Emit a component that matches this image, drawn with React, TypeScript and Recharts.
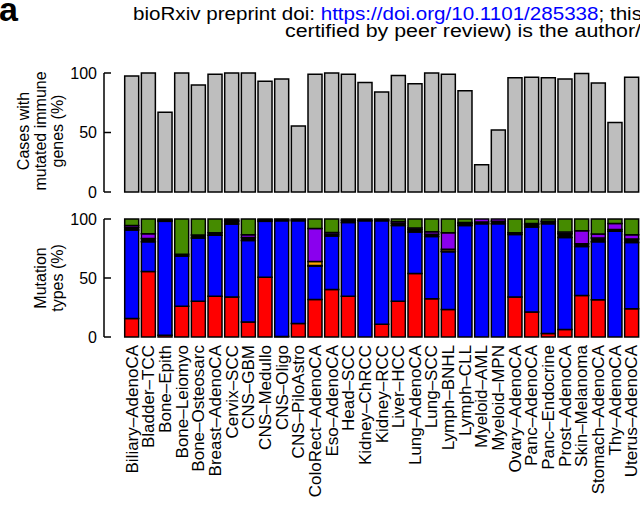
import React from 'react';
import { BarChart, Bar, XAxis, YAxis } from 'recharts';

const categories = [
  'Biliary–AdenoCA', 'Bladder–TCC', 'Bone–Epith', 'Bone–Leiomyo', 'Bone–Osteosarc',
  'Breast–AdenoCA', 'Cervix–SCC', 'CNS–GBM', 'CNS–Medullo', 'CNS–Oligo',
  'CNS–PiloAstro', 'ColoRect–AdenoCA', 'Eso–AdenoCA', 'Head–SCC', 'Kidney–ChRCC',
  'Kidney–RCC', 'Liver–HCC', 'Lung–AdenoCA', 'Lung–SCC', 'Lymph–BNHL',
  'Lymph–CLL', 'Myeloid–AML', 'Myeloid–MPN', 'Ovary–AdenoCA', 'Panc–AdenoCA',
  'Panc–Endocrine', 'Prost–AdenoCA', 'Skin–Melanoma', 'Stomach–AdenoCA', 'Thy–AdenoCA',
  'Uterus–AdenoCA',
];

const casesPct = [
  97.5, 100, 67, 100, 90, 99, 100, 100, 93, 95,
  55.5, 99, 100, 99, 92, 84, 98, 91, 100, 99,
  85, 23, 52, 96, 96.5, 96, 95, 99.5, 91.5, 58.5,
  96.5,
];

const redPct = [
  15.6, 55.6, 1.5, 26, 30.4, 34.6, 33.8, 12.8, 50.6, 0.5,
  11.5, 31.8, 40.2, 34.6, 0, 10.7, 30.4, 53.9, 32.4, 23.2,
  0, 0, 0, 33.8, 21.2, 3, 6.4, 35.2, 31.5, 0,
  23.9,
];
const bluePct = [
  75.1, 25.1, 96.5, 42.7, 53.6, 51.7, 62, 69, 47.4, 98,
  87, 28.3, 45.3, 62.4, 98.5, 87.8, 64, 35, 52.8, 49.1,
  94.5, 96, 96, 53, 72, 93, 78, 41.4, 49.3, 89.7,
  56.2,
];
const blackPct = [
  2.2, 2.8, 1, 1.5, 2.5, 2, 2, 2.5, 1.2, 1,
  1, 0.5, 1.5, 2, 1.5, 1, 2, 2, 1.8, 0.5,
  1.5, 1.5, 2, 1.5, 2, 1.5, 3, 2.5, 3, 1.5,
  3,
];
const orangePct = [
  0, 0, 0, 0, 0, 0, 0, 0, 0, 0,
  0, 3.4, 0, 0, 0, 0, 0, 0, 0, 1.6,
  0, 0, 0, 0, 0, 0, 0, 0, 0, 0,
  0,
];
const purplePct = [
  1.6, 4, 0, 0, 0, 0, 1, 2.3, 0, 0,
  0, 28, 1.5, 0, 0, 0.5, 1.5, 1.5, 2.3, 14,
  1, 2.5, 2, 0, 1, 0.5, 1.5, 10.9, 3.5, 5,
  3.5,
];
const greenPct = [
  5.5, 12.5, 1, 29.8, 13.5, 11.7, 1.2, 13.4, 0.8, 0.5,
  0.5, 8, 11.5, 1, 0, 0, 2.1, 7.6, 10.7, 11.6,
  3, 0, 0, 11.7, 3.8, 2, 11.1, 10, 12.7, 3.8,
  13.4,
];

const yTicks = [0, 50, 100];

const FONT = '"Liberation Sans", Arial, Helvetica, sans-serif';

const topData = categories.map((name, i) => ({ name, cases: casesPct[i] }));
const bottomData = categories.map((name, i) => ({
  name,
  red: redPct[i],
  blue: bluePct[i],
  black: blackPct[i],
  orange: orangePct[i],
  purple: purplePct[i],
  green: greenPct[i],
}));

const series = [
  { key: 'red', color: '#ff0000' },
  { key: 'blue', color: '#0000ff' },
  { key: 'black', color: '#000000' },
  { key: 'orange', color: '#ffa500' },
  { key: 'purple', color: '#8a00ee' },
  { key: 'green', color: '#458b00' },
];

const YTick = (props: any) => {
  const { x, y, payload } = props;
  return (
    <g>
      <line x1={x} x2={x + 7} y1={y} y2={y} stroke="#000" strokeWidth={1.5} />
      <text
        x={x - 7}
        y={y}
        textAnchor="end"
        dominantBaseline="central"
        fontSize={16}
        fontFamily={FONT}
        fill="#000"
      >
        {payload.value}
      </text>
    </g>
  );
};

const XTick = (props: any) => {
  const { x, y, payload } = props;
  return (
    <text
      x={x}
      y={y + 8}
      transform={`rotate(-90, ${x}, ${y + 8})`}
      textAnchor="end"
      dominantBaseline="central"
      fontSize={17}
      fontFamily={FONT}
      fill="#000"
    >
      {payload.value}
    </text>
  );
};

const CHART_W = 660;
const MARGIN_LEFT = 44;
const YAXIS_W = 60;
const PAD = { left: 19.7, right: 9.7 };

export default function App() {
  return (
    <div
      style={{
        position: 'absolute',
        left: 0,
        top: 0,
        width: 640,
        height: 511,
        overflow: 'hidden',
        background: '#fff',
      }}
    >
      <div style={{ position: 'absolute', left: 0, top: 0 }}>
        <BarChart
          width={CHART_W}
          height={212}
          data={topData}
          margin={{ top: 73, right: 10, bottom: 20, left: MARGIN_LEFT }}
        >
          <XAxis dataKey="name" hide padding={PAD} />
          <YAxis
            domain={[0, 100]}
            ticks={yTicks}
            width={YAXIS_W}
            tickSize={0}
            tickMargin={0}
            tickLine={false}
            axisLine={{ stroke: '#000', strokeWidth: 1.5 }}
            tick={<YTick />}
            interval={0}
          />
          <Bar
            dataKey="cases"
            fill="#bebebe"
            stroke="#000"
            strokeWidth={1.5}
            barSize={14}
            isAnimationActive={false}
          />
        </BarChart>
      </div>
      <div style={{ position: 'absolute', left: 0, top: 0 }}>
        <BarChart
          width={CHART_W}
          height={511}
          data={bottomData}
          margin={{ top: 219, right: 10, bottom: 0, left: MARGIN_LEFT }}
        >
          <XAxis
            dataKey="name"
            height={174}
            padding={PAD}
            interval={0}
            tickSize={0}
            tickMargin={0}
            tickLine={false}
            axisLine={false}
            tick={<XTick />}
          />
          <YAxis
            domain={[0, 100]}
            ticks={yTicks}
            width={YAXIS_W}
            tickSize={0}
            tickMargin={0}
            tickLine={false}
            axisLine={{ stroke: '#000', strokeWidth: 1.5 }}
            tick={<YTick />}
            interval={0}
          />
          {series.map((s) => (
            <Bar
              key={s.key}
              dataKey={s.key}
              stackId="m"
              fill={s.color}
              stroke="#000"
              strokeWidth={1.5}
              barSize={14}
              isAnimationActive={false}
            />
          ))}
        </BarChart>
      </div>
      <svg
        width={640}
        height={511}
        style={{ position: 'absolute', left: 0, top: 0, pointerEvents: 'none' }}
        fontFamily={FONT}
      >
        <text x={-1} y={21} fontSize={34} fontWeight="bold" fill="#000">
          a
        </text>
        <text
          x={133}
          y={20}
          fontSize={18}
          fill="#000"
          textLength={509}
          lengthAdjust="spacingAndGlyphs"
        >
          bioRxiv preprint doi:{' '}
          <tspan fill="#0000ff">https://doi.org/10.1101/285338</tspan>; this
        </text>
        <text
          x={285}
          y={37}
          fontSize={18}
          fill="#000"
          textLength={356}
          lengthAdjust="spacingAndGlyphs"
        >
          certified by peer review) is the author/
        </text>
        <g fontSize={16} fill="#000" textAnchor="middle">
          <text x={28.5} y={131} transform="rotate(-90, 28.5, 131)">Cases with</text>
          <text x={46} y={131} transform="rotate(-90, 46, 131)">mutated immune</text>
          <text x={63} y={131} transform="rotate(-90, 63, 131)">genes (%)</text>
          <text x={46} y={278} transform="rotate(-90, 46, 278)">Mutation</text>
          <text x={63} y={278} transform="rotate(-90, 63, 278)">types (%)</text>
        </g>
      </svg>
    </div>
  );
}
